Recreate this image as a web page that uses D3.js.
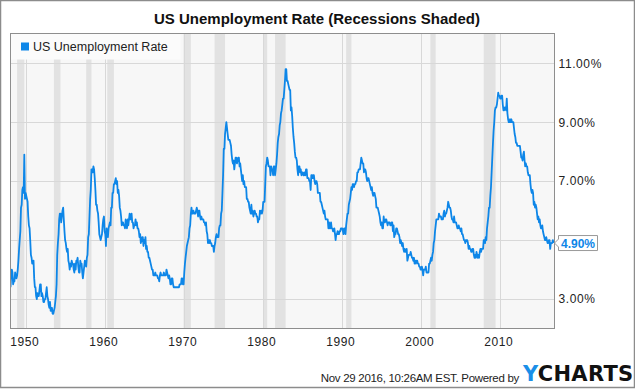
<!DOCTYPE html>
<html>
<head>
<meta charset="utf-8">
<script src="https://cdn.jsdelivr.net/npm/d3@7"></script>
<style>
  html, body { margin: 0; padding: 0; background: #fff; }
  svg { display: block; font-family: "Liberation Sans", Arial, sans-serif; }
</style>
</head>
<body>
<svg id="chart" width="635" height="389"></svg>
<script>
// ---- DATA ----
const title = "US Unemployment Rate (Recessions Shaded)";
const seriesName = "US Unemployment Rate";
const startYear = 1948; // monthly values starting Jan 1948
const rates = [
  3.4,3.8,4.0,3.9,3.5,3.6,3.6,3.9,3.8,3.7,3.8,4.0,
  4.3,4.7,5.0,5.3,6.1,6.2,6.7,6.8,6.6,7.9,6.4,6.6,
  6.5,6.4,6.3,5.8,5.5,5.4,5.0,4.5,4.4,4.2,4.2,4.3,
  3.7,3.4,3.4,3.1,3.0,3.2,3.1,3.1,3.3,3.5,3.5,3.1,
  3.2,3.1,2.9,2.9,3.0,3.0,3.2,3.4,3.1,3.0,2.8,2.7,
  2.9,2.6,2.6,2.7,2.5,2.5,2.6,2.7,2.9,3.1,3.5,4.5,
  4.9,5.2,5.7,5.9,5.9,5.6,5.8,6.0,6.1,5.7,5.3,5.0,
  4.9,4.7,4.6,4.7,4.3,4.2,4.0,4.2,4.1,4.3,4.2,4.2,
  4.0,3.9,4.2,4.0,4.3,4.3,4.4,4.1,3.9,3.9,4.3,4.2,
  4.2,3.9,3.7,3.9,4.1,4.3,4.2,4.1,4.4,4.5,5.1,5.2,
  5.8,6.4,6.7,7.4,7.4,7.3,7.5,7.4,7.1,6.7,6.2,6.2,
  6.0,5.9,5.6,5.2,5.1,5.0,5.1,5.2,5.5,5.7,5.8,5.3,
  5.2,4.8,5.4,5.2,5.1,5.4,5.5,5.6,5.5,6.1,6.1,6.6,
  6.6,6.9,6.9,7.0,7.1,6.9,7.0,6.6,6.7,6.5,6.1,6.0,
  5.8,5.5,5.6,5.6,5.5,5.5,5.4,5.7,5.6,5.4,5.7,5.5,
  5.7,5.9,5.7,5.7,5.9,5.6,5.6,5.4,5.5,5.5,5.7,5.5,
  5.6,5.4,5.4,5.3,5.1,5.2,4.9,5.0,5.1,5.1,4.8,5.0,
  4.9,5.1,4.7,4.8,4.6,4.6,4.4,4.4,4.3,4.2,4.1,4.0,
  4.0,3.8,3.8,3.8,3.9,3.8,3.8,3.8,3.7,3.7,3.6,3.8,
  3.9,3.8,3.8,3.8,3.8,3.9,3.8,3.8,3.8,4.0,3.9,3.8,
  3.7,3.8,3.7,3.5,3.5,3.7,3.7,3.5,3.4,3.4,3.4,3.4,
  3.4,3.4,3.4,3.4,3.4,3.5,3.5,3.5,3.7,3.7,3.5,3.5,
  3.9,4.2,4.4,4.6,4.8,4.9,5.0,5.1,5.4,5.5,5.9,6.1,
  5.9,5.9,6.0,5.9,5.9,5.9,6.0,6.1,6.0,5.8,6.0,6.0,
  5.8,5.7,5.8,5.7,5.7,5.7,5.6,5.6,5.5,5.6,5.3,5.2,
  4.9,5.0,4.9,5.0,4.9,4.9,4.8,4.8,4.8,4.6,4.8,4.9,
  5.1,5.2,5.1,5.1,5.1,5.4,5.5,5.5,5.9,6.0,6.6,7.2,
  8.1,8.1,8.6,8.8,9.0,8.8,8.6,8.4,8.4,8.4,8.3,8.2,
  7.9,7.7,7.6,7.7,7.4,7.6,7.8,7.8,7.6,7.7,7.8,7.8,
  7.5,7.6,7.4,7.2,7.0,7.2,6.9,7.0,6.8,6.8,6.8,6.4,
  6.4,6.3,6.3,6.1,6.0,5.9,6.2,5.9,6.0,5.8,5.9,6.0,
  5.9,5.9,5.8,5.8,5.6,5.7,5.7,6.0,5.9,6.0,5.9,6.0,
  6.3,6.3,6.3,6.9,7.5,7.6,7.8,7.7,7.5,7.5,7.5,7.2,
  7.5,7.4,7.4,7.2,7.5,7.5,7.2,7.4,7.6,7.9,8.3,8.5,
  8.6,8.9,9.0,9.3,9.4,9.6,9.8,9.8,10.1,10.4,10.8,10.8,
  10.4,10.4,10.3,10.2,10.1,10.1,9.4,9.5,9.2,8.8,8.5,8.3,
  8.0,7.8,7.8,7.7,7.4,7.2,7.5,7.5,7.3,7.4,7.2,7.3,
  7.3,7.2,7.2,7.3,7.2,7.4,7.4,7.1,7.1,7.1,7.0,7.0,
  6.7,7.2,7.2,7.1,7.2,7.2,7.0,6.9,7.0,7.0,6.9,6.6,
  6.6,6.6,6.6,6.3,6.3,6.2,6.1,6.0,5.9,6.0,5.8,5.7,
  5.7,5.7,5.7,5.4,5.6,5.4,5.4,5.6,5.4,5.4,5.3,5.3,
  5.4,5.2,5.0,5.2,5.2,5.3,5.2,5.2,5.3,5.3,5.4,5.4,
  5.4,5.3,5.2,5.4,5.4,5.2,5.5,5.7,5.9,5.9,6.2,6.3,
  6.4,6.6,6.8,6.7,6.9,6.9,6.8,6.9,6.9,7.0,7.0,7.3,
  7.3,7.4,7.4,7.4,7.6,7.8,7.7,7.6,7.6,7.3,7.4,7.4,
  7.3,7.1,7.0,7.1,7.1,7.0,6.9,6.8,6.7,6.8,6.6,6.5,
  6.6,6.6,6.5,6.4,6.1,6.1,6.1,6.0,5.9,5.8,5.6,5.5,
  5.6,5.4,5.4,5.8,5.6,5.6,5.7,5.7,5.6,5.5,5.6,5.6,
  5.6,5.5,5.5,5.6,5.6,5.3,5.5,5.1,5.2,5.2,5.4,5.4,
  5.3,5.2,5.2,5.1,4.9,5.0,4.9,4.8,4.9,4.7,4.6,4.7,
  4.6,4.6,4.7,4.3,4.4,4.5,4.5,4.5,4.6,4.5,4.4,4.4,
  4.3,4.4,4.2,4.3,4.2,4.3,4.3,4.2,4.2,4.1,4.1,4.0,
  4.0,4.1,4.0,3.8,4.0,4.0,4.0,4.1,3.9,3.9,3.9,3.9,
  4.2,4.2,4.3,4.4,4.3,4.5,4.6,4.9,5.0,5.3,5.5,5.7,
  5.7,5.7,5.7,5.9,5.8,5.8,5.8,5.7,5.7,5.7,5.9,6.0,
  5.8,5.9,5.9,6.0,6.1,6.3,6.2,6.1,6.1,6.0,5.8,5.7,
  5.7,5.6,5.8,5.6,5.6,5.6,5.5,5.4,5.4,5.5,5.4,5.4,
  5.3,5.4,5.2,5.2,5.1,5.0,5.0,4.9,5.0,5.0,5.0,4.9,
  4.7,4.8,4.7,4.7,4.6,4.6,4.7,4.7,4.5,4.4,4.5,4.4,
  4.6,4.5,4.4,4.5,4.4,4.6,4.7,4.6,4.7,4.7,4.7,5.0,
  5.0,4.9,5.1,5.0,5.4,5.6,5.8,6.1,6.1,6.5,6.8,7.3,
  7.8,8.3,8.7,9.0,9.4,9.5,9.5,9.6,9.8,10.0,9.9,9.9,
  9.8,9.8,9.9,9.9,9.6,9.4,9.4,9.5,9.5,9.4,9.8,9.3,
  9.1,9.0,9.0,9.1,9.0,9.1,9.0,9.0,9.0,8.8,8.6,8.5,
  8.3,8.3,8.2,8.2,8.2,8.2,8.2,8.0,7.8,7.8,7.7,7.9,
  8.0,7.7,7.5,7.6,7.5,7.5,7.3,7.2,7.2,7.2,6.9,6.7,
  6.6,6.7,6.6,6.2,6.3,6.1,6.2,6.1,5.9,5.7,5.8,5.6,
  5.7,5.5,5.4,5.4,5.5,5.3,5.2,5.1,5.0,5.0,5.1,5.0,
  4.9,4.9,5.0,5.0,4.7,4.9,4.9,4.9,5.0,4.9
];
// NBER recessions [start "YYYY-MM", end "YYYY-MM"]
const recessions = [
  ["1948-11","1949-10"],["1953-07","1954-05"],["1957-08","1958-04"],
  ["1960-04","1961-02"],["1969-12","1970-11"],["1973-11","1975-03"],
  ["1980-01","1980-07"],["1981-07","1982-11"],["1990-07","1991-03"],
  ["2001-03","2001-11"],["2007-12","2009-06"]
];
const xTickYears = [1950,1960,1970,1980,1990,2000,2010];
const yGridValues = [3,5,7,9,11];
const yLabelValues = [3,7,9,11];
const footerText = "Nov 29 2016, 10:26AM EST.  Powered by";

// ---- BUILD ----
const parseM = d3.timeParse("%Y-%m");
const data = rates.map((v, i) => ({
  date: new Date(startYear + Math.floor(i / 12), i % 12, 1),
  value: v
}));
const last = data[data.length - 1];

const svg = d3.select("#chart");
const W = 635, H = 389;
const plot = { left: 10.5, right: 554.5, top: 33.5, bottom: 328.5 };

// outer border
svg.append("rect").attr("x", 0.5).attr("y", 0.5).attr("width", W - 1).attr("height", H - 2)
  .attr("fill", "#fff").attr("stroke", "#8c8c8c").attr("stroke-width", 1.5);

const x = d3.scaleTime()
  .domain([data[0].date, last.date])
  .range([plot.left, plot.right - 1]);
const y = d3.scaleLinear().domain([2, 12]).range([plot.bottom, plot.top + 0.3]);

// plot background
svg.append("rect").attr("x", plot.left).attr("y", plot.top)
  .attr("width", plot.right - plot.left).attr("height", plot.bottom - plot.top)
  .attr("fill", "#f7f7f7");

svg.append("clipPath").attr("id", "clip").append("rect")
  .attr("x", plot.left).attr("y", plot.top)
  .attr("width", plot.right - plot.left).attr("height", plot.bottom - plot.top);

const g = svg.append("g").attr("clip-path", "url(#clip)");

// recessions
g.selectAll("rect.rec").data(recessions).join("rect").attr("class", "rec")
  .attr("x", d => x(parseM(d[0])))
  .attr("width", d => x(parseM(d[1])) - x(parseM(d[0])))
  .attr("y", plot.top).attr("height", plot.bottom - plot.top)
  .attr("fill", "#e2e2e2");

// grid lines
g.selectAll("line.vg").data(xTickYears).join("line").attr("class", "vg")
  .attr("x1", d => Math.round(x(new Date(d, 0, 1))) + 0.5)
  .attr("x2", d => Math.round(x(new Date(d, 0, 1))) + 0.5)
  .attr("y1", plot.top).attr("y2", plot.bottom)
  .attr("stroke", "#d8d8d8").attr("stroke-width", 1);
g.selectAll("line.hg").data(yGridValues).join("line").attr("class", "hg")
  .attr("x1", plot.left).attr("x2", plot.right)
  .attr("y1", d => Math.round(y(d)) + 0.5).attr("y2", d => Math.round(y(d)) + 0.5)
  .attr("stroke", "#d8d8d8").attr("stroke-width", 1);

// line
const line = d3.line().x(d => x(d.date)).y(d => y(d.value));
g.append("path").datum(data).attr("d", line)
  .attr("fill", "none").attr("stroke", "#0d86e8").attr("stroke-width", 1.8)
  .attr("stroke-linejoin", "round");

// legend box
svg.append("rect").attr("x", plot.left).attr("y", plot.top)
  .attr("width", 170).attr("height", 26).attr("fill", "#fbfbfb");
svg.append("rect").attr("x", 21).attr("y", 42.5).attr("width", 8).attr("height", 8)
  .attr("fill", "#0d86e8");
svg.append("text").attr("x", 33).attr("y", 51).attr("font-size", 12.5).attr("fill", "#222")
  .text(seriesName);

// plot border
svg.append("rect").attr("x", plot.left).attr("y", plot.top)
  .attr("width", plot.right - plot.left).attr("height", plot.bottom - plot.top)
  .attr("fill", "none").attr("stroke", "#8e8e8e").attr("stroke-width", 1);

// x axis labels
const xAxis = d3.axisBottom(x)
  .tickValues(xTickYears.map(yy => new Date(yy, 0, 1)))
  .tickFormat(d3.timeFormat("%Y")).tickSize(0).tickPadding(0);
const xa = svg.append("g").attr("transform", `translate(-2,${plot.bottom + 9})`).call(xAxis);
xa.select(".domain").remove();
xa.selectAll("text").attr("font-size", 12).attr("fill", "#222")
  .attr("font-family", "Liberation Sans, Arial, sans-serif").attr("letter-spacing", 0.6);

// y axis labels
const yAxis = d3.axisRight(y).tickValues(yLabelValues)
  .tickFormat(d => d3.format(".2f")(d) + "%").tickSize(0).tickPadding(0);
const ya = svg.append("g").attr("transform", `translate(${plot.right + 4},0)`).call(yAxis);
ya.select(".domain").remove();
ya.selectAll("text").attr("font-size", 12).attr("fill", "#222")
  .attr("font-family", "Liberation Sans, Arial, sans-serif").attr("letter-spacing", 0.6);

// last value flag
const ly = y(last.value);
const bx = plot.right + 4, bw = 39, bh = 15;
svg.append("path")
  .attr("d", `M${plot.right},${ly} L${bx},${ly - 4} L${bx},${ly - bh / 2} L${bx + bw},${ly - bh / 2} L${bx + bw},${ly + bh / 2} L${bx},${ly + bh / 2} L${bx},${ly + 4} Z`)
  .attr("fill", "#fff").attr("stroke", "#999").attr("stroke-width", 1);
svg.append("text").attr("x", bx + bw / 2).attr("y", ly + 4.5).attr("text-anchor", "middle")
  .attr("font-size", 12).attr("font-weight", "bold").attr("fill", "#0d86e8")
  .text(d3.format(".2f")(last.value) + "%");

// title
svg.append("text").attr("x", 317).attr("y", 24).attr("text-anchor", "middle")
  .attr("font-size", 15).attr("font-weight", "bold").attr("fill", "#111").text(title);

// footer
svg.append("text").attr("x", 519).attr("y", 382).attr("text-anchor", "end")
  .attr("font-size", 11.5).attr("fill", "#222").attr("letter-spacing", -0.3).text(footerText);
const logo = svg.append("text").attr("x", 523).attr("y", 380.5)
  .attr("font-size", 21).attr("font-weight", "bold").attr("letter-spacing", 0.3)
  .attr("font-family", "DejaVu Sans, sans-serif");
logo.append("tspan").attr("fill", "#1a8fe8").text("Y");
logo.append("tspan").attr("fill", "#111").text("CHARTS");
</script>
</body>
</html>
